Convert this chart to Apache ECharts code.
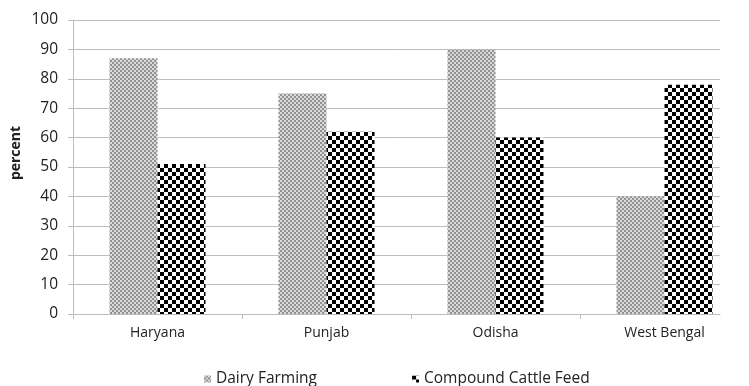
<!DOCTYPE html>
<html>
<head>
<meta charset="utf-8">
<script src="https://cdn.jsdelivr.net/npm/echarts@6/dist/echarts.min.js"></script>
<style>
  html, body { margin: 0; padding: 0; background: #fff; }
  #chart { width: 749px; height: 386px; }
</style>
</head>
<body>
<div id="chart"></div>
<script>
// States surveyed and share of respondents (percent)
const states = ['Haryana', 'Punjab', 'Odisha', 'West Bengal'];
const dairyFarming = [87, 75, 90, 40];
const compoundCattleFeed = [51, 62, 60, 78];
const yTicks = { min: 0, max: 100, step: 10 };

const FONT = '"Open Sans", Lato, sans-serif';
const GRID_GRAY = '#bdbdbd';
const TEXT = '#222222';

// Fine grey dot fill for the dairy farming bars
function dotPattern() {
  const c = document.createElement('canvas');
  c.width = 4; c.height = 4;
  const g = c.getContext('2d');
  g.fillStyle = '#929292';
  g.fillRect(0, 0, 4, 4);
  g.fillStyle = '#dadada';
  g.fillRect(0, 0, 2, 2);
  g.fillRect(2, 2, 2, 2);
  return c;
}

// Coarse black/white checkerboard for the cattle feed bars
function checkerPattern() {
  const c = document.createElement('canvas');
  c.width = 8; c.height = 8;
  const g = c.getContext('2d');
  g.fillStyle = '#ffffff';
  g.fillRect(0, 0, 8, 8);
  g.fillStyle = '#000000';
  g.fillRect(0, 0, 4, 4);
  g.fillRect(4, 4, 4, 4);
  return c;
}

const chart = echarts.init(document.getElementById('chart'), null, { renderer: 'canvas' });

chart.setOption({
  animation: false,
  backgroundColor: '#ffffff',
  textStyle: { fontFamily: FONT },
  grid: [
    // frame: axis lines and gridlines
    { left: 73, top: 20, width: 647, height: 294 },
    // bars: category bands are wider than the drawn frame
    { left: 73, top: 20, width: 680, height: 294 }
  ],
  graphic: [
    {
      type: 'text', x: 16, y: 153, rotation: Math.PI / 2,
      style: {
        text: 'percent', align: 'center', verticalAlign: 'middle',
        font: 'bold 14px ' + FONT, fill: TEXT
      }
    }
  ],
  legend: {
    left: 199,
    top: 366,
    itemWidth: 7,
    itemHeight: 7,
    itemGap: 95,
    icon: 'rect',
    textStyle: { fontFamily: FONT, fontSize: 15.5, color: TEXT },
    data: ['Dairy Farming', 'Compound Cattle Feed']
  },
  xAxis: [
    {
      gridIndex: 0, type: 'value', min: 0, max: 1,
      axisLine: { show: true, lineStyle: { color: GRID_GRAY, width: 1 } },
      axisTick: { show: false }, axisLabel: { show: false }, splitLine: { show: false }
    },
    {
      gridIndex: 1, type: 'category', data: states,
      axisLine: { show: false },
      axisTick: { show: true, length: 5, lineStyle: { color: GRID_GRAY } },
      axisLabel: { margin: 12, fontFamily: FONT, fontSize: 14, color: TEXT }
    }
  ],
  yAxis: [
    {
      gridIndex: 0, type: 'value', min: yTicks.min, max: yTicks.max, interval: yTicks.step,
      axisLine: { show: true, lineStyle: { color: GRID_GRAY } },
      axisTick: { show: true, length: 5, lineStyle: { color: GRID_GRAY } },
      axisLabel: { margin: 15, fontFamily: FONT, fontSize: 15.5, color: TEXT },
      splitLine: { lineStyle: { color: GRID_GRAY, width: 1 } }
    },
    {
      gridIndex: 1, type: 'value', min: yTicks.min, max: yTicks.max, show: false
    }
  ],
  series: [
    {
      name: 'Dairy Farming', type: 'bar', xAxisIndex: 1, yAxisIndex: 1,
      data: dairyFarming, barWidth: 48, barGap: '0%',
      itemStyle: { color: { image: dotPattern(), repeat: 'repeat' } }
    },
    {
      name: 'Compound Cattle Feed', type: 'bar', xAxisIndex: 1, yAxisIndex: 1,
      data: compoundCattleFeed, barWidth: 48, barGap: '0%',
      itemStyle: { color: { image: checkerPattern(), repeat: 'repeat' } }
    }
  ]
});
</script>
</body>
</html>
